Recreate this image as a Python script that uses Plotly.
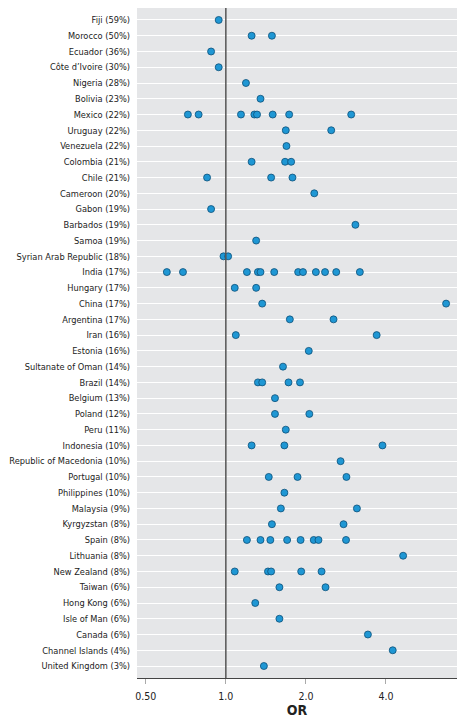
import plotly.graph_objects as go

countries = [
    "Fiji (59%)", "Morocco (50%)", "Ecuador (36%)", "Côte d’Ivoire (30%)", "Nigeria (28%)",
    "Bolivia (23%)", "Mexico (22%)", "Uruguay (22%)", "Venezuela (22%)", "Colombia (21%)",
    "Chile (21%)", "Cameroon (20%)", "Gabon (19%)", "Barbados (19%)", "Samoa (19%)",
    "Syrian Arab Republic (18%)", "India (17%)", "Hungary (17%)", "China (17%)", "Argentina (17%)",
    "Iran (16%)", "Estonia (16%)", "Sultanate of Oman (14%)", "Brazil (14%)", "Belgium (13%)",
    "Poland (12%)", "Peru (11%)", "Indonesia (10%)", "Republic of Macedonia (10%)", "Portugal (10%)",
    "Philippines (10%)", "Malaysia (9%)", "Kyrgyzstan (8%)", "Spain (8%)", "Lithuania (8%)",
    "New Zealand (8%)", "Taiwan (6%)", "Hong Kong (6%)", "Isle of Man (6%)", "Canada (6%)",
    "Channel Islands (4%)", "United Kingdom (3%)",
]

odds_ratios = [
    [0.94],
    [1.25, 1.49],
    [0.88],
    [0.94],
    [1.19],
    [1.35],
    [0.72, 0.79, 1.14, 1.28, 1.31, 1.50, 1.73, 2.96],
    [1.68, 2.49],
    [1.69],
    [1.25, 1.67, 1.76],
    [0.85, 1.48, 1.78],
    [2.15],
    [0.88],
    [3.07],
    [1.30],
    [0.98, 1.02],
    [0.60, 0.69, 1.20, 1.32, 1.35, 1.52, 1.87, 1.95, 2.18, 2.36, 2.60, 3.19],
    [1.08, 1.30],
    [1.37, 6.73],
    [1.74, 2.54],
    [1.09, 3.69],
    [2.05],
    [1.64],
    [1.32, 1.37, 1.72, 1.90],
    [1.53],
    [1.53, 2.06],
    [1.68],
    [1.25, 1.66, 3.88],
    [2.70],
    [1.45, 1.86, 2.84],
    [1.66],
    [1.61, 3.11],
    [1.49, 2.77],
    [1.20, 1.35, 1.47, 1.70, 1.91, 2.14, 2.23, 2.83],
    [4.64],
    [1.08, 1.44, 1.48, 1.92, 2.29],
    [1.59, 2.37],
    [1.29],
    [1.59],
    [3.42],
    [4.24],
    [1.39],
]

x_ticks = [0.5, 1.0, 2.0, 4.0]
x_tick_labels = ["0.50", "1.0", "2.0", "4.0"]
reference_or = 1.0

xs, ys = [], []
for c, vals in zip(countries, odds_ratios):
    for v in vals:
        xs.append(v)
        ys.append(c)

FONT = "Liberation Sans Narrow, DejaVu Sans Condensed, Arial Narrow, sans-serif"

fig = go.Figure()
fig.add_trace(go.Scatter(
    x=xs, y=ys, mode="markers",
    marker=dict(size=7, color="#1f97d4", line=dict(color="#0b4f78", width=0.8)),
    showlegend=False, hoverinfo="x+y",
))

n = len(countries)
fig.add_shape(type="line", xref="x", yref="paper", x0=reference_or, x1=reference_or, y0=0, y1=1,
              line=dict(color="#555555", width=1.5), layer="above")

fig.update_layout(
    width=457, height=715,
    margin=dict(l=129, r=8, t=0, b=45),
    paper_bgcolor="white",
    plot_bgcolor="#e5e6e8",
    font=dict(family=FONT, size=10, color="#222222"),
    xaxis=dict(
        type="log",
        range=[-0.334, 0.869],
        tickvals=x_ticks, ticktext=x_tick_labels,
        ticks="outside", ticklen=5, tickcolor="#aaaaaa",
        showgrid=False, zeroline=False,
        showline=True, linecolor="#444444", linewidth=1,
        tickfont=dict(size=10.5),
        ticklabelstandoff=3,
        title=dict(text="<b>OR</b>", font=dict(size=14), standoff=4),
        automargin=False,
    ),
    yaxis=dict(
        type="category",
        categoryorder="array", categoryarray=countries,
        range=[n - 1 + 0.76, -0.76],
        showgrid=True, gridcolor="white", gridwidth=1,
        ticks="", showline=False, zeroline=False,
        tickfont=dict(size=9.2),
        ticklabelstandoff=6,
        automargin=False,
    ),
)

fig.write_html("out.html")
